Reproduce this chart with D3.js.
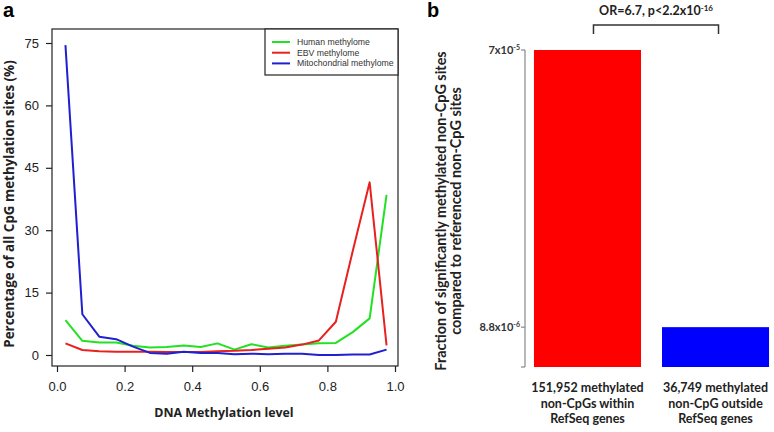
<!DOCTYPE html>
<html><head><meta charset="utf-8">
<script src="https://cdn.jsdelivr.net/npm/d3@7"></script>
<style>body{margin:0;background:#fff}svg{display:block}</style>
</head><body>
<svg id="c" width="774" height="432"></svg>
<script>
const bins = [0.025,0.075,0.125,0.175,0.225,0.275,0.325,0.375,0.425,0.475,0.525,0.575,0.625,0.675,0.725,0.775,0.825,0.875,0.925,0.975];
const human = [8.4,3.4,3.0,3.0,2.2,1.8,1.9,2.3,1.9,2.8,1.3,2.6,1.8,2.2,2.5,2.8,2.9,5.5,8.8,38.5];
const ebv   = [2.8,1.2,0.9,0.8,0.8,0.8,0.7,0.7,0.7,0.9,1.0,1.2,1.5,1.8,2.5,3.5,8.0,25,41.5,2.3];
const mito  = [74.5,9.8,4.4,3.8,2.0,0.5,0.3,0.8,0.5,0.5,0.2,0.3,0.2,0.3,0.3,0.0,0.0,0.1,0.1,1.3];
const seriesNames = ["Human methylome","EBV methylome","Mitochondrial methylome"];
const seriesColors = ["#22e022","#e82020","#2020d0"];
const xTicks = [0,0.2,0.4,0.6,0.8,1.0];
const yTicks = [0,15,30,45,60,75];

const barCats = [["151,952 methylated","non-CpGs within","RefSeq genes"],["36,749 methylated","non-CpG outside","RefSeq genes"]];
const barVals = [7e-5, 8.8e-6];
const barColors = ["#ff0000","#0000ff"];
const barTickLabels = [["7x10","-5"],["8.8x10","-6"]];
const annot = ["OR=6.7, p<2.2x10","-16"];

const svg = d3.select("#c");

// ---------- Panel a ----------
const x = d3.scaleLinear().domain([0,1]).range([57,395]);
const y = d3.scaleLinear().domain([0,75]).range([355,43]);
const box = {l:52,r:398,t:29,b:366};

svg.append("text").attr("x",3).attr("y",17).text("a")
  .style("font-family","Liberation Sans, Arial").style("font-weight","bold").style("font-size","20px");

svg.append("rect").attr("x",box.l).attr("y",box.t).attr("width",box.r-box.l).attr("height",box.b-box.t)
  .attr("fill","none").attr("stroke","#222").attr("stroke-width",1.2);

const xa = svg.append("g").attr("transform",`translate(0,${box.b})`)
  .call(d3.axisBottom(x).tickValues(xTicks).tickFormat(d3.format(".1f")).tickSize(6).tickSizeOuter(0));
xa.select(".domain").remove();
xa.selectAll("line").attr("stroke","#222").attr("stroke-width",1.2);
xa.selectAll("text").attr("dy","1.25em").style("font-family","Liberation Sans, Arial").style("font-size","13px").attr("fill","#222");

const ya = svg.append("g").attr("transform",`translate(${box.l},0)`)
  .call(d3.axisLeft(y).tickValues(yTicks).tickSize(6).tickSizeOuter(0));
ya.select(".domain").remove();
ya.selectAll("line").attr("stroke","#222").attr("stroke-width",1.2);
ya.selectAll("text").attr("x",-13).style("font-family","Liberation Sans, Arial").style("font-size","13px").attr("fill","#222");

svg.append("text").attr("x",224).attr("y",417).attr("text-anchor","middle").text("DNA Methylation level")
  .style("font-family","Open Sans").style("font-weight","bold").style("font-size","12.4px").attr("fill","#222");
svg.append("text").attr("transform","translate(14,204) rotate(-90)").attr("text-anchor","middle")
  .text("Percentage of all CpG methylation sites (%)")
  .style("font-family","Open Sans").style("font-weight","bold").style("font-size","13.4px").attr("fill","#222");

const line = d3.line().x((d,i)=>x(bins[i])).y(d=>y(d));
[human,ebv,mito].forEach((s,k)=>{
  svg.append("path").datum(s).attr("d",line).attr("fill","none")
    .attr("stroke",seriesColors[k]).attr("stroke-width",2).attr("stroke-linejoin","round");
});

// legend
const lg = svg.append("g");
lg.append("rect").attr("x",265).attr("y",box.t).attr("width",box.r-265).attr("height",46)
  .attr("fill","#fff").attr("stroke","#222").attr("stroke-width",1.2);
seriesNames.forEach((n,k)=>{
  const yy = 42 + k*10.7;
  lg.append("line").attr("x1",272).attr("x2",290).attr("y1",yy).attr("y2",yy).attr("stroke",seriesColors[k]).attr("stroke-width",2);
  lg.append("text").attr("x",297).attr("y",yy+3).text(n).style("font-family","Liberation Sans, Arial").style("font-size","8.7px").attr("fill","#333");
});

// ---------- Panel b ----------
const font2 = "Lato, Open Sans";
svg.append("text").attr("x",427).attr("y",17).text("b")
  .style("font-family","Liberation Sans, Arial").style("font-weight","bold").style("font-size","20px");

const yb = d3.scaleLinear().domain([0,7e-5]).range([367,50]);
const xb = d3.scaleBand().domain(d3.range(barVals.length)).range([525,778]).paddingInner(0.164).paddingOuter(0.07);

svg.append("line").attr("x1",525).attr("x2",525).attr("y1",yb(7e-5)).attr("y2",yb(0)).attr("stroke","#888").attr("stroke-width",1.2);
[...barVals,0].forEach(v=>{
  svg.append("line").attr("x1",521).attr("x2",525).attr("y1",yb(v)).attr("y2",yb(v)).attr("stroke","#888").attr("stroke-width",1.2);
});
barTickLabels.forEach((t,i)=>{
  const tx = svg.append("text").attr("x",520).attr("y",yb(barVals[i])+4).attr("text-anchor","end")
    .style("font-family",font2).style("font-weight","bold").style("font-size","11px").attr("fill","#333");
  tx.append("tspan").text(t[0]);
  tx.append("tspan").attr("dy",-4.5).style("font-size","7px").text(t[1]);
});

svg.selectAll(".bar").data(barVals).enter().append("rect")
  .attr("x",(d,i)=>xb(i)).attr("width",xb.bandwidth())
  .attr("y",d=>yb(d)).attr("height",d=>yb(0)-yb(d)).attr("fill",(d,i)=>barColors[i]);

barCats.forEach((lines,i)=>{
  lines.forEach((l,j)=>{
    svg.append("text").attr("x",xb(i)+xb.bandwidth()/2).attr("y",392+j*15.5).attr("text-anchor","middle").text(l)
      .style("font-family",font2).style("font-weight","bold").style("font-size","12.5px").attr("fill","#222");
  });
});

svg.append("text").attr("transform","translate(446,211) rotate(-90)").attr("text-anchor","middle")
  .text("Fraction of significantly methylated non-CpG sites")
  .style("font-family",font2).style("font-weight","bold").style("font-size","14.4px").attr("fill","#222");
svg.append("text").attr("transform","translate(461,211) rotate(-90)").attr("text-anchor","middle")
  .text("compared to referenced non-CpG sites")
  .style("font-family",font2).style("font-weight","bold").style("font-size","14.4px").attr("fill","#222");

// bracket
const bx1 = xb(0)+xb.bandwidth()/2+6, bx2 = xb(1)+xb.bandwidth()/2+3;
svg.append("path").attr("d",`M${bx1},34V25H${bx2}V34`).attr("fill","none").attr("stroke","#333").attr("stroke-width",1.5);
const at = svg.append("text").attr("x",(bx1+bx2)/2).attr("y",15).attr("text-anchor","middle")
  .style("font-family",font2).style("font-weight","bold").style("font-size","12.5px").attr("fill","#222");
at.append("tspan").text(annot[0]);
at.append("tspan").attr("dy",-4.5).style("font-size","8px").text(annot[1]);
</script>
</body></html>
